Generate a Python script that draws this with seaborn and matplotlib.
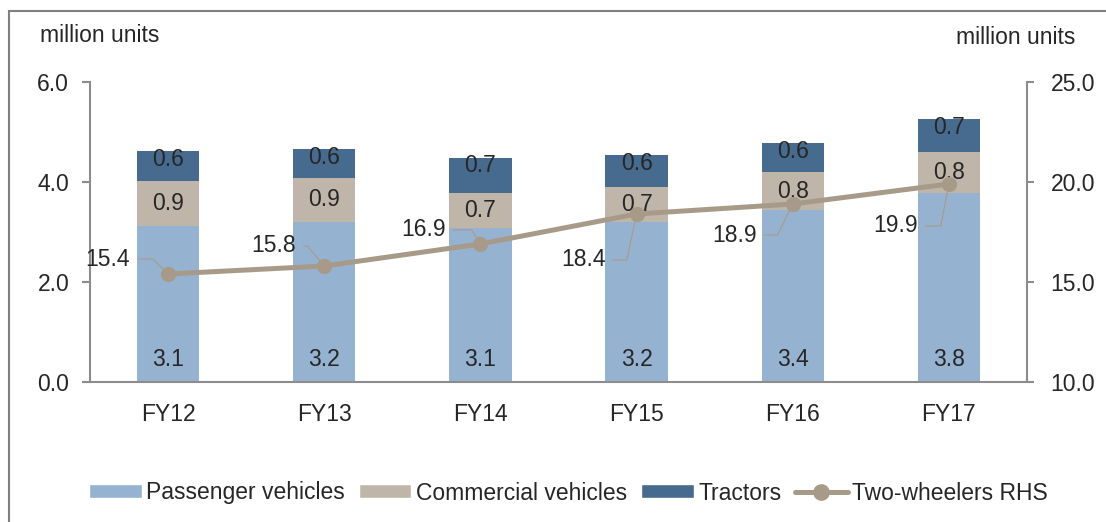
import matplotlib.pyplot as plt
import numpy as np
import pandas as pd
import seaborn as sns
from matplotlib.lines import Line2D
from matplotlib.patches import Patch, Rectangle

# ------------------------------
# DATA
# ------------------------------
years = ["FY12", "FY13", "FY14", "FY15", "FY16", "FY17"]
passenger = [3.12, 3.20, 3.08, 3.20, 3.44, 3.78]
commercial = [0.90, 0.88, 0.70, 0.70, 0.76, 0.82]
tractors = [0.60, 0.58, 0.70, 0.64, 0.58, 0.66]
two_wheelers = [15.4, 15.8, 16.9, 18.4, 18.9, 19.9]

# ------------------------------
# STYLE
# ------------------------------
C_PASS = "#95b3d0"
C_COMM = "#bfb6a9"
C_TRAC = "#466b8f"
C_LINE = "#a89a89"
SPINE = "#8c8c8c"
FS = 16.5

sns.set_style("white")
plt.rcParams["font.family"] = ["Liberation Sans", "DejaVu Sans"]

df = pd.DataFrame({
    "year": years,
    "passenger": passenger,
    "commercial": commercial,
    "tractors": tractors,
    "two_wheelers": two_wheelers,
})
df["base2"] = df["passenger"] + df["commercial"]
df["total"] = df["base2"] + df["tractors"]

fig = plt.figure(figsize=(11.06, 5.22), dpi=100)
ax = fig.add_axes([90 / 1106, 1 - 382 / 522, (1027 - 90) / 1106, 300 / 522])

# outer frame of the exhibit
fig.patches.append(Rectangle((9 / 1106, -0.2), 1.5, 1.2 - 11 / 522, transform=fig.transFigure,
                             fill=False, edgecolor="#808080", linewidth=1.5))

# ------------------------------
# STACKED BARS
# ------------------------------
sns.barplot(data=df, x="year", y="passenger", color=C_PASS, width=0.4, ax=ax,
            saturation=1, linewidth=0)
sns.barplot(data=df, x="year", y="commercial", bottom=df["passenger"], color=C_COMM, width=0.4,
            ax=ax, saturation=1, linewidth=0)
sns.barplot(data=df, x="year", y="tractors", bottom=df["base2"], color=C_TRAC, width=0.4,
            ax=ax, saturation=1, linewidth=0)

xs = np.arange(len(years))
for i in xs:
    ax.annotate(f"{df['passenger'][i]:.1f}", (i, 0), xytext=(0, 22), textcoords="offset pixels",
                ha="center", va="center", fontsize=FS)
    ax.annotate(f"{df['commercial'][i]:.1f}", (i, df["passenger"][i] + df["commercial"][i] / 2),
                ha="center", va="center", fontsize=FS)
    ax.annotate(f"{df['tractors'][i]:.1f}", (i, df["total"][i]), xytext=(0, -8),
                textcoords="offset pixels", ha="center", va="center", fontsize=FS)

ax.set_xlim(-0.5, len(years) - 0.5)
ax.set_ylim(0, 6)
ax.set_yticks([0, 2, 4, 6])
ax.set_yticklabels([f"{v:.1f}" for v in [0, 2, 4, 6]])
ax.set_xlabel("")
ax.set_ylabel("")
ax.tick_params(axis="x", length=0, pad=15, labelsize=FS)
ax.tick_params(axis="y", length=6, width=1.5, color=SPINE, pad=9, labelsize=FS, left=True)
for s in ["left", "bottom"]:
    ax.spines[s].set_color(SPINE)
    ax.spines[s].set_linewidth(1.5)
for s in ["top", "right"]:
    ax.spines[s].set_visible(False)

# ------------------------------
# TWO-WHEELERS (RHS)
# ------------------------------
ax2 = ax.twinx()
sns.lineplot(x=xs, y=df["two_wheelers"], ax=ax2, color=C_LINE, linewidth=3.6, marker="o",
             markersize=11, markeredgewidth=0)
ax2.set_ylim(10, 25)
ax2.set_yticks([10, 15, 20, 25])
ax2.set_yticklabels([f"{v:.1f}" for v in [10, 15, 20, 25]])
ax2.set_ylabel("")
ax2.tick_params(axis="y", length=5, width=1.5, color=SPINE, pad=12, labelsize=FS, right=True)
for s in ["left", "top", "bottom"]:
    ax2.spines[s].set_visible(False)
ax2.spines["right"].set_color(SPINE)
ax2.spines["right"].set_linewidth(1.5)

# label offsets (pixels) and leader angles
offsets = [(-38, 15), (-28, 20), (-35, 14), (-31, -46), (-36, -31), (-31, -42)]
angles = [135, 130, 122, 78, 64, 79]
for i in xs:
    ax2.annotate(f"{df['two_wheelers'][i]:.1f}", (i, df["two_wheelers"][i]),
                 xytext=offsets[i], textcoords="offset pixels", ha="right", va="center",
                 fontsize=FS,
                 arrowprops=dict(arrowstyle="-", color=C_LINE, lw=0.8, shrinkA=3, shrinkB=4,
                                 connectionstyle=f"angle,angleA=0,angleB={angles[i]},rad=0"))

# ------------------------------
# UNIT LABELS + LEGEND
# ------------------------------
fig.text(40 / 1106, 1 - 36 / 522, "million units", fontsize=FS, ha="left", va="center")
fig.text(1075 / 1106, 1 - 37 / 522, "million units", fontsize=FS, ha="right", va="center")

handles = [
    Patch(facecolor=C_PASS, label="Passenger vehicles"),
    Patch(facecolor=C_COMM, label="Commercial vehicles"),
    Patch(facecolor=C_TRAC, label="Tractors"),
    Line2D([], [], color=C_LINE, linewidth=3.6, marker="o", markersize=11, label="Two-wheelers RHS"),
]
fig.legend(handles=handles, loc="center", bbox_to_anchor=(0.514, 1 - 493 / 522), ncol=4,
           frameon=False, fontsize=FS, handlelength=2.3, handleheight=0.55, handletextpad=0.2,
           columnspacing=0.6)

fig.savefig("out.png", dpi=100)
